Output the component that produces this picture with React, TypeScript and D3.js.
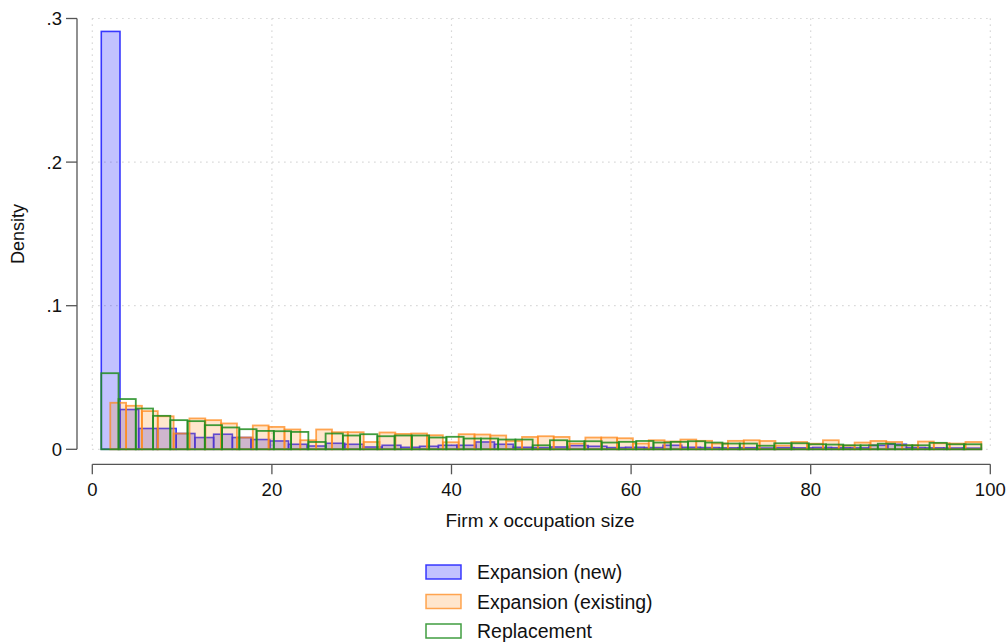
import React, { useEffect } from "react";
import * as d3 from "d3";

// histogram bins: start value, bin width, and density of each bin
const newStart = 1;
const newWidth = 98 / 47;
const newDensity = [
  0.291, 0.0277, 0.0145, 0.0145, 0.011, 0.0082, 0.0105, 0.0082, 0.0068, 0.0058,
  0.0035, 0.0023, 0.0042, 0.0035, 0.0016, 0.0028, 0.0014, 0.0021, 0.0028, 0.0028,
  0.0051, 0.0035, 0.0014, 0.0012, 0.0016, 0.0026, 0.0021, 0.0012, 0.0014, 0.0012,
  0.0028, 0.0014, 0.0012, 0.001, 0.0011, 0.0009, 0.0012, 0.001, 0.0013, 0.0011,
  0.001, 0.0028, 0.0035, 0.0012, 0.001, 0.0009, 0.0008,
];

const existStart = 2;
const existWidth = 97 / 55;
const existDensity = [
  0.0324, 0.0303, 0.0266, 0.023, 0.011, 0.0215, 0.0203, 0.018, 0.0082, 0.0166,
  0.0156, 0.0138, 0.0063, 0.0138, 0.0119, 0.0119, 0.0051, 0.0117, 0.0107, 0.011,
  0.0098, 0.0049, 0.0105, 0.0103, 0.0096, 0.0058, 0.0086, 0.0091, 0.0086, 0.004,
  0.0082, 0.0082, 0.0077, 0.004, 0.0063, 0.0054, 0.0068, 0.0059, 0.004, 0.0059,
  0.0063, 0.0058, 0.0026, 0.0051, 0.0039, 0.0063, 0.0026, 0.0047, 0.0058, 0.0051,
  0.0028, 0.0054, 0.0042, 0.004, 0.0051,
];

const replStart = 1;
const replWidth = 98 / 51;
const replDensity = [
  0.053, 0.035, 0.0284, 0.0233, 0.0203, 0.0196, 0.0168, 0.0152, 0.014, 0.0128,
  0.0126, 0.0121, 0.0051, 0.011, 0.0096, 0.0105, 0.0091, 0.0096, 0.0096, 0.0082,
  0.0087, 0.0075, 0.0075, 0.0068, 0.0068, 0.0028, 0.0063, 0.0056, 0.0056, 0.0047,
  0.0052, 0.0058, 0.0047, 0.0052, 0.0056, 0.0047, 0.004, 0.004, 0.0025, 0.0042,
  0.0042, 0.0035, 0.0033, 0.0028, 0.0028, 0.0039, 0.0028, 0.0028, 0.0045, 0.0035,
  0.0035,
];

const xTicks = [0, 20, 40, 60, 80, 100];
const yTicks = [0, 0.1, 0.2, 0.3];
const yTickLabels = ["0", ".1", ".2", ".3"];
const legendLabels = ["Expansion (new)", "Expansion (existing)", "Replacement"];

const font = "'Liberation Sans', Arial, sans-serif";

const series = [
  { start: newStart, width: newWidth, dens: newDensity, stroke: "#1a1aff", fill: "#0000ff", fillOp: 0.24, strokeOp: 0.85, sw: 1.6 },
  { start: existStart, width: existWidth, dens: existDensity, stroke: "#ff8a1c", fill: "#ff8c1a", fillOp: 0.22, strokeOp: 0.75, sw: 1.8 },
  { start: replStart, width: replWidth, dens: replDensity, stroke: "#1e8c1e", fill: "none", fillOp: 0, strokeOp: 0.85, sw: 1.8 },
];

export default function App() {
  useEffect(() => {
    document.body.style.margin = "0";
  }, []);

  const width = 1008;
  const height = 644;

  const x = d3.scaleLinear().domain([0, 100]).range([92.3, 990.3]);
  const y = d3.scaleLinear().domain([0, 0.3]).range([449.3, 18.5]);

  const yAxisX = 77;
  const xAxisY = 464.3;

  return (
    <svg width={width} height={height} style={{ display: "block", background: "#fff" }} fontFamily={font}>
      {/* grid */}
      {yTicks.map((t) => (
        <line key={"gy" + t} x1={x(0)} x2={x(100)} y1={y(t)} y2={y(t)}
          stroke="#cccccc" strokeWidth={1.2} strokeDasharray="1.2 4.8" />
      ))}
      {xTicks.map((t) => (
        <line key={"gx" + t} x1={x(t)} x2={x(t)} y1={y(0.3)} y2={y(0)}
          stroke="#cccccc" strokeWidth={1.2} strokeDasharray="1.2 4.8" />
      ))}

      {/* histograms */}
      {series.map((s, si) => (
        <g key={"s" + si}>
          {s.dens.map((d, i) => {
            const x0 = x(s.start + i * s.width);
            const x1 = x(s.start + (i + 1) * s.width);
            return (
              <rect key={i} x={x0} y={y(d)} width={x1 - x0} height={y(0) - y(d)}
                fill={s.fill} fillOpacity={s.fillOp}
                stroke={s.stroke} strokeOpacity={s.strokeOp} strokeWidth={s.sw} />
            );
          })}
        </g>
      ))}

      {/* y axis */}
      <line x1={yAxisX} x2={yAxisX} y1={y(0.3)} y2={y(0)} stroke="#555" strokeWidth={1.3} />
      {yTicks.map((t, i) => (
        <g key={"yt" + t}>
          <line x1={yAxisX - 11} x2={yAxisX} y1={y(t)} y2={y(t)} stroke="#555" strokeWidth={1.3} />
          <text x={62} y={y(t)} dy="0.36em" textAnchor="end" fontSize={18.5} fill="#111">
            {yTickLabels[i]}
          </text>
        </g>
      ))}
      <text transform={`translate(24, ${y(0.15)}) rotate(-90)`} textAnchor="middle" fontSize={18} fill="#111">
        Density
      </text>

      {/* x axis */}
      <line x1={x(0)} x2={x(100)} y1={xAxisY} y2={xAxisY} stroke="#555" strokeWidth={1.3} />
      {xTicks.map((t) => (
        <g key={"xt" + t}>
          <line x1={x(t)} x2={x(t)} y1={xAxisY} y2={xAxisY + 10} stroke="#555" strokeWidth={1.3} />
          <text x={x(t)} y={496} textAnchor="middle" fontSize={18.5} fill="#111">
            {t}
          </text>
        </g>
      ))}
      <text x={540} y={527} textAnchor="middle" fontSize={19} fill="#111">
        Firm x occupation size
      </text>

      {/* legend */}
      {legendLabels.map((lab, i) => {
        const s = series[i];
        const cy = 572 + i * 29.5;
        return (
          <g key={"lg" + i}>
            <rect x={426} y={cy - 7} width={35} height={14}
              fill={s.fill === "none" ? "#fff" : s.fill} fillOpacity={s.fill === "none" ? 1 : s.fillOp}
              stroke={s.stroke} strokeOpacity={s.strokeOp} strokeWidth={1.5} />
            <text x={477} y={cy} dy="0.36em" fontSize={19.5} fill="#111">
              {lab}
            </text>
          </g>
        );
      })}
    </svg>
  );
}
